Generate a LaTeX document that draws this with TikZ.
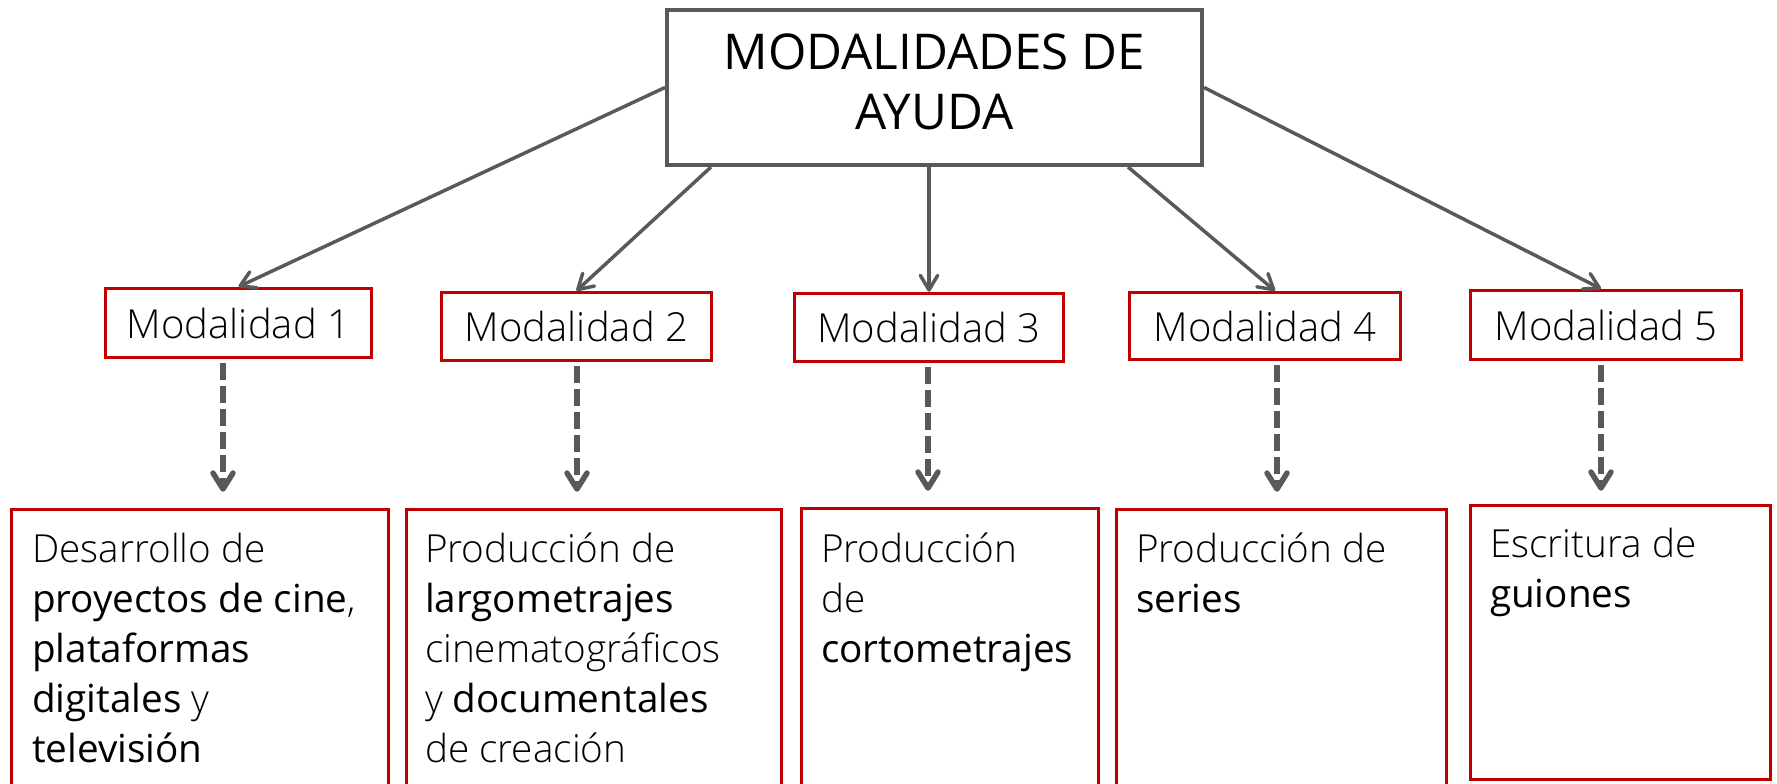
\documentclass[tikz,border=0pt]{standalone}
\usepackage{fontspec}
\setmainfont{Open Sans Light}[BoldFont={Open Sans}]
\usetikzlibrary{arrows.meta,calc}
\definecolor{cgray}{HTML}{595959}
\definecolor{cred}{HTML}{C00000}
\begin{document}
\begin{tikzpicture}[x=0.75pt,y=-0.75pt,
 topbox/.style={draw=cgray, line width=3pt, fill=white, minimum width=401.25pt, minimum height=116.25pt, align=center, font=\fontsize{37}{45}\selectfont\bfseries, inner sep=0pt},
 modbox/.style={draw=cred, line width=2.6pt, fill=white, inner sep=0pt, font=\fontsize{30}{36}\selectfont},
 descbox/.style={draw=cred, line width=2.6pt, inner sep=0pt},
 desctext/.style={anchor=north west, inner sep=0pt, align=left, font=\fontsize{29}{37.5}\selectfont},
 solidarrow/.style={draw=cgray, line width=2.6pt, -{Straight Barb[length=11pt,width=13pt,round]}},
 dasharrow/.style={draw=cgray, line width=4.1pt, dash pattern=on 12.75pt off 4.5pt, -{Straight Barb[length=12pt,width=15pt,round]}}
]
\useasboundingbox (0,0) rectangle (1777,784);
\fill[white] (0,0) rectangle (1777,784);
\clip (0,0) rectangle (1777,784);

\node[topbox] (top) at (934.5,87.5) {MODALIDADES DE\\AYUDA\rule[-9pt]{0pt}{9pt}};

\node[modbox, minimum width=199.5pt, minimum height=51.75pt] (m1) at (238.5,323) {Modalidad 1};
\node[modbox, minimum width=202.5pt, minimum height=51pt] (m2) at (576.5,326.5) {Modalidad 2};
\node[modbox, minimum width=201.75pt, minimum height=51pt] (m3) at (929,327.5) {Modalidad 3};
\node[modbox, minimum width=203.25pt, minimum height=50.25pt] (m4) at (1265,326) {Modalidad 4};
\node[modbox, minimum width=203.25pt, minimum height=51.75pt] (m5) at (1606,325) {Modalidad 5};

\node[descbox, minimum width=282.75pt, minimum height=231.75pt] (b1) at (200,664) {};
\node[descbox, minimum width=281.25pt, minimum height=231.75pt] (b2) at (594,664) {};
\node[descbox, minimum width=222.75pt, minimum height=232.5pt] (b3) at (950,663.5) {};
\node[descbox, minimum width=247.5pt, minimum height=231.75pt] (b4) at (1281.5,664) {};
\node[descbox, minimum width=225pt, minimum height=205.5pt] (b5) at (1620.5,642.5) {};

\node[desctext] (t1) at ($(b1.north west)+(22,14)$) {\rule{0pt}{30pt}Desarrollo de\\\textbf{proyectos de cine},\\\textbf{plataformas}\\\textbf{digitales} y\\\textbf{televisión}};
\node[desctext] (t2) at ($(b2.north west)+(20,14)$) {\rule{0pt}{30pt}Producción de\\\textbf{largometrajes}\\cinematográficos\\y \textbf{documentales}\\de creación};
\node[desctext] (t3) at ($(b3.north west)+(21,15)$) {\rule{0pt}{30pt}Producción\\de\\\textbf{cortometrajes}};
\node[desctext] (t4) at ($(b4.north west)+(21,14)$) {\rule{0pt}{30pt}Producción de\\\textbf{series}};
\node[desctext] (t5) at ($(b5.north west)+(21,13)$) {\rule{0pt}{30pt}Escritura de\\\textbf{guiones}};

\draw[solidarrow] (top.west) -- (m1.north);
\draw[solidarrow] ($(top.south west)+(46,0)$) -- (m2.north);
\draw[solidarrow] (top.south -| m3.north) -- (m3.north);
\draw[solidarrow] ($(top.south east)+(-76,0)$) -- ($(m4.north)+(10,0)$);
\draw[solidarrow] (top.east) -- ($(m5.north)+(-5,0)$);

\draw[dasharrow] ($(m1.south)+(-15.5,4)$) -- ($(m1.south |- b1.north)+(-15.5,-16)$);
\draw[dasharrow] ($(m2.south)+(0.5,4)$) -- ($(m2.south |- b2.north)+(0.5,-16)$);
\draw[dasharrow] ($(m3.south)+(-1,4)$) -- ($(m3.south |- b3.north)+(-1,-16)$);
\draw[dasharrow] ($(m4.south)+(12,4)$) -- ($(m4.south |- b4.north)+(12,-16)$);
\draw[dasharrow] ($(m5.south)+(-5,4)$) -- ($(m5.south |- b5.north)+(-5,-13)$);
\end{tikzpicture}
\end{document}
